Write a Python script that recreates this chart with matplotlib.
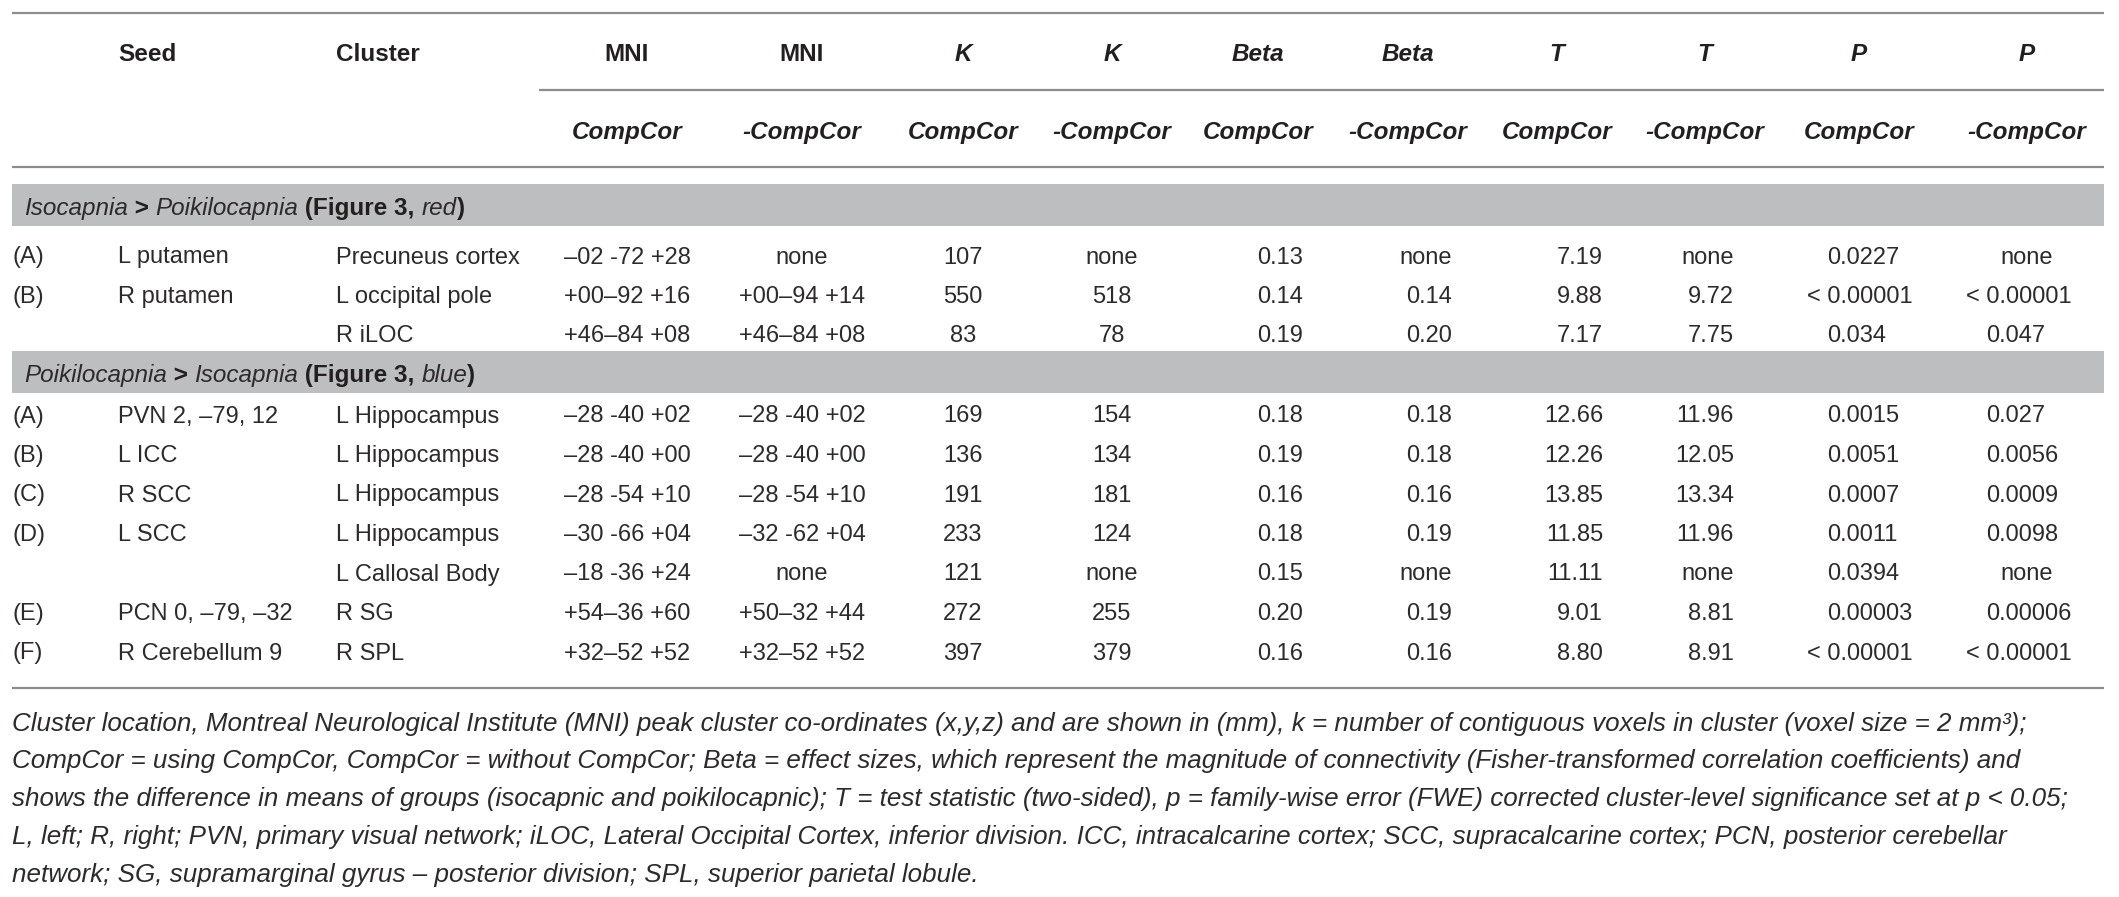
import matplotlib
matplotlib.use("Agg")
import matplotlib.pyplot as plt
from matplotlib.patches import Rectangle

W, H = 2119, 897

# table content
letters = ["(A)", "(B)", "", "(A)", "(B)", "(C)", "(D)", "", "(E)", "(F)"]
seeds = ["L putamen", "R putamen", "", "PVN 2, –79, 12", "L ICC", "R SCC", "L SCC", "",
         "PCN 0, –79, –32", "R Cerebellum 9"]
clusters = ["Precuneus cortex", "L occipital pole", "R iLOC", "L Hippocampus", "L Hippocampus",
            "L Hippocampus", "L Hippocampus", "L Callosal Body", "R SG", "R SPL"]
mni_cc = ["–02 -72 +28", "+00–92 +16", "+46–84 +08", "–28 -40 +02", "–28 -40 +00",
          "–28 -54 +10", "–30 -66 +04", "–18 -36 +24", "+54–36 +60", "+32–52 +52"]
mni_nocc = ["none", "+00–94 +14", "+46–84 +08", "–28 -40 +02", "–28 -40 +00",
            "–28 -54 +10", "–32 -62 +04", "none", "+50–32 +44", "+32–52 +52"]
k_cc = ["107", "550", "83", "169", "136", "191", "233", "121", "272", "397"]
k_nocc = ["none", "518", "78", "154", "134", "181", "124", "none", "255", "379"]
beta_cc = ["0.13", "0.14", "0.19", "0.18", "0.19", "0.16", "0.18", "0.15", "0.20", "0.16"]
beta_nocc = ["none", "0.14", "0.20", "0.18", "0.18", "0.16", "0.19", "none", "0.19", "0.16"]
t_cc = ["7.19", "9.88", "7.17", "12.66", "12.26", "13.85", "11.85", "11.11", "9.01", "8.80"]
t_nocc = ["none", "9.72", "7.75", "11.96", "12.05", "13.34", "11.96", "none", "8.81", "8.91"]
p_cc = ["0.0227", "< 0.00001", "0.034", "0.0015", "0.0051", "0.0007", "0.0011", "0.0394",
        "0.00003", "< 0.00001"]
p_nocc = ["none", "< 0.00001", "0.047", "0.027", "0.0056", "0.0009", "0.0098", "none",
          "0.00006", "< 0.00001"]
group = [0, 0, 0, 1, 1, 1, 1, 1, 1, 1]

head_top = ["MNI", "MNI", "K", "K", "Beta", "Beta", "T", "T", "P", "P"]
head_sub = ["CompCor", "-CompCor"] * 5

sections = [
    [("Isocapnia", "i"), (" > ", "b"), ("Poikilocapnia", "i"), (" (Figure 3, ", "b"), ("red", "i"), (")", "b")],
    [("Poikilocapnia", "i"), (" > ", "b"), ("Isocapnia", "i"), (" (Figure 3, ", "b"), ("blue", "i"), (")", "b")],
]

caption = [
    "Cluster location, Montreal Neurological Institute (MNI) peak cluster co-ordinates (x,y,z) and are shown in (mm), k = number of contiguous voxels in cluster (voxel size = 2 mm³);",
    "CompCor = using CompCor, CompCor = without CompCor; Beta = effect sizes, which represent the magnitude of connectivity (Fisher-transformed correlation coefficients) and",
    "shows the difference in means of groups (isocapnic and poikilocapnic); T = test statistic (two-sided), p = family-wise error (FWE) corrected cluster-level significance set at p < 0.05;",
    "L, left; R, right; PVN, primary visual network; iLOC, Lateral Occipital Cortex, inferior division. ICC, intracalcarine cortex; SCC, supracalcarine cortex; PCN, posterior cerebellar",
    "network; SG, supramarginal gyrus – posterior division; SPL, superior parietal lobule.",
]

# styles
INK = "#231f20"
RULE = "#8c8c8c"
BAND = "#bcbec0"
BODY = dict(family="Liberation Sans", fontsize=17, color="#2e2a2b")
ITAL = dict(BODY, fontstyle="italic")
BOLD = dict(family="Liberation Sans", fontweight="bold", fontsize=17.5, color=INK)
BOLDI = dict(BOLD, fontstyle="italic")

X0, X1 = 12, 2104
head_x = [627, 802, 963, 1112, 1258, 1408, 1557, 1705, 1859, 2027]

fig = plt.figure(figsize=(W / 100, H / 100), dpi=100)
ax = fig.add_axes([0, 0, 1, 1])
ax.set_xlim(0, W)
ax.set_ylim(H, 0)
ax.axis("off")


def rule(y, xa=X0, xb=X1):
    ax.plot([xa, xb], [y, y], color=RULE, lw=1.6, solid_capstyle="butt")


# header
rule(13)
rule(90, 539)
rule(167)
ax.text(118, 52, "Seed", ha="left", va="center_baseline", **BOLD)
ax.text(336, 52, "Cluster", ha="left", va="center_baseline", **BOLD)
for x, t in zip(head_x, head_top):
    ax.text(x, 52, t, ha="center", va="center_baseline", **(BOLD if t == "MNI" else BOLDI))
for x, t in zip(head_x, head_sub):
    ax.text(x, 130, t, ha="center", va="center_baseline", **BOLDI)

# section bands
band_y = [205, 372]
first_row = [255, 414]
row_h = 39.5
renderer = fig.canvas.get_renderer()
for gi, pieces in enumerate(sections):
    yb = band_y[gi]
    ax.add_patch(Rectangle((X0, yb - 21), X1 - X0, 42, color=BAND, lw=0))
    x = 24
    for txt, st in pieces:
        t = ax.text(x, yb + 1, txt, ha="left", va="center_baseline",
                    **(dict(ITAL, fontsize=17.5) if st == "i" else BOLD))
        x += t.get_window_extent(renderer).width


def put(x, y, s, ha):
    ax.text(x, y, s, ha=ha, va="center_baseline", **BODY)


# rows
count = [0, 0]
for i in range(len(clusters)):
    g = group[i]
    y = first_row[g] + row_h * count[g]
    count[g] += 1
    put(12, y, letters[i], "left")
    put(118, y, seeds[i], "left")
    put(336, y, clusters[i], "left")
    put(627, y, mni_cc[i], "center")
    put(802, y, mni_nocc[i], "center")
    put(963, y, k_cc[i], "center")
    put(1112, y, k_nocc[i], "center")
    put(1303, y, beta_cc[i], "right")
    put(1452, y, beta_nocc[i], "right")
    put(1603, y, t_cc[i], "right")
    put(1734, y, t_nocc[i], "right")
    if p_cc[i].startswith("0"):
        put(1827, y, p_cc[i], "left")
    else:
        put(1860, y, p_cc[i], "center")
    if p_nocc[i].startswith("0"):
        put(1986, y, p_nocc[i], "left")
    elif p_nocc[i] == "none":
        put(2027, y, p_nocc[i], "center")
    else:
        put(2019, y, p_nocc[i], "center")

rule(688)

for j, line in enumerate(caption):
    ax.text(12, 721 + 37.8 * j, line, ha="left", va="center_baseline", **dict(ITAL, fontsize=18.7))

fig.savefig("out.png", dpi=100, facecolor="white")
